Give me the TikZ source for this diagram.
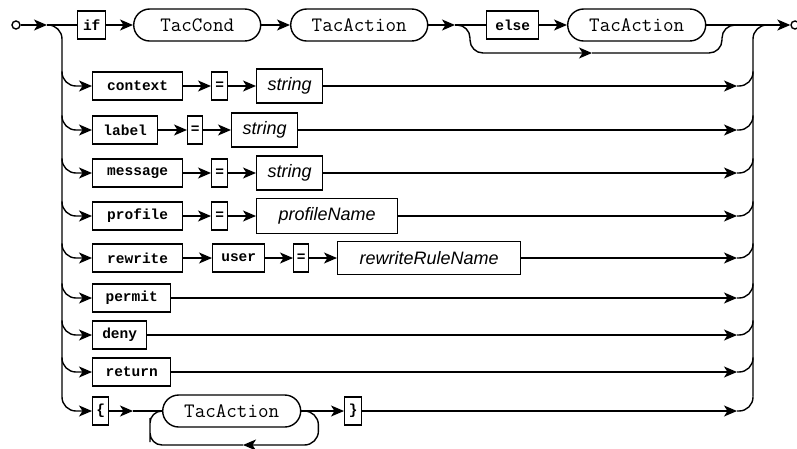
\documentclass[tikz,border=0pt]{standalone}
\usepackage{fontspec}
\usetikzlibrary{arrows.meta}
\newfontfamily\rrmono{Liberation Mono}
\newfontfamily\rrsans{Liberation Sans}

\tikzset{
  rail/.style={line width=1.4pt},
  arr/.style={-{Stealth[length=13pt,width=11pt,inset=3.5pt]}},
  kw/.style={draw, line width=1.4pt, inner sep=0pt, minimum height=28pt, anchor=west,
    font=\rrmono\bfseries\fontsize{14.5}{16}\selectfont},
  nt/.style={draw, line width=1.4pt, rounded corners=16pt, inner sep=0pt, minimum height=32pt, anchor=west,
    font=\ttfamily\fontsize{20.5}{22}\selectfont},
  term/.style={draw, line width=1.4pt, inner sep=0pt, minimum height=34pt, anchor=west,
    font=\rrsans\itshape\fontsize{18}{20}\selectfont},
  endpt/.style={circle, draw, line width=1.4pt, inner sep=0pt, minimum size=8pt}
}

\begin{document}
\begin{tikzpicture}[x=1pt,y=-1pt,rail]
\useasboundingbox (0,0) rectangle (797,448);

% first line: if ... else
\node[endpt] (start) at (16,25) {};
\node[endpt] (endc) at (795,25) {};
\coordinate (s1) at (47,25);
\coordinate (s2) at (455,25);
\coordinate (m2) at (740,25);
\coordinate (m3) at (770,25);
\coordinate (bpA) at (592,53);
\node[kw, minimum width=28pt] (if) at (77,25) {if};
\node[nt, minimum width=127pt] (cond) at (133,25) {TacCond};
\node[nt, minimum width=137pt] (act1) at (290,25) {TacAction};
\node[kw, minimum width=52pt] (else) at (486,25) {else};
\node[nt, minimum width=138pt] (act2) at (567,25) {TacAction};

\draw[arr] (start) -- (s1);
\draw (s1) -- (if);
\draw[arr] (if) -- (cond);
\draw[arr] (cond) -- (act1);
\draw[arr] (act1) -- (s2);
\draw (s2) -- (else);
\draw[arr] (else) -- (act2);
\draw[arr] (act2) -- (endc);
% skip the else part
\draw[arr, rounded corners=13pt] (s2) -- ++(15,0) |- (bpA);
\draw[rounded corners=13pt] (bpA) -- ++(130,0) |- (m2);

% settings
\node[kw, minimum width=90pt] (ctx) at (92,86) {context};
\node[kw, minimum width=16pt] (eq1) at (211,86) {=};
\node[term, minimum width=66pt] (str1) at (256,86) {string};
\node[kw, minimum width=65pt] (lbl) at (92,130) {label};
\node[kw, minimum width=15pt] (eq2) at (187,130) {=};
\node[term, minimum width=66pt] (str2) at (231,130) {string};
\node[kw, minimum width=90pt] (msg) at (92,173) {message};
\node[kw, minimum width=16pt] (eq3) at (211,173) {=};
\node[term, minimum width=66pt] (str3) at (256,173) {string};
\node[kw, minimum width=90pt] (prof) at (92,216) {profile};
\node[kw, minimum width=16pt] (eq4) at (211,216) {=};
\node[term, minimum width=141pt, minimum height=35pt] (pname) at (256,216) {profileName};
\node[kw, minimum width=90pt] (rew) at (92,258) {rewrite};
\node[kw, minimum width=52pt] (user) at (212,258) {user};
\node[kw, minimum width=15pt] (eq5) at (293,258) {=};
\node[term, minimum width=183pt, minimum height=33pt] (rrn) at (337,258) {rewriteRuleName};

\draw[arr] (ctx) -- (eq1);
\draw[arr] (eq1) -- (str1);
\draw[arr] (lbl) -- (eq2);
\draw[arr] (eq2) -- (str2);
\draw[arr] (msg) -- (eq3);
\draw[arr] (eq3) -- (str3);
\draw[arr] (prof) -- (eq4);
\draw[arr] (eq4) -- (pname);
\draw[arr] (rew) -- (user);
\draw[arr] (user) -- (eq5);
\draw[arr] (eq5) -- (rrn);

% single words
\node[kw, minimum width=78pt] (perm) at (92,298) {permit};
\node[kw, minimum width=54pt] (deny) at (92,335) {deny};
\node[kw, minimum width=78pt] (ret) at (92,372) {return};

% block
\coordinate (l1) at (133,411);
\coordinate (lpA) at (243,445);
\coordinate (lpB) at (150,430);
\node[kw, minimum width=16pt] (lbr) at (92,411) {\{};
\node[nt, minimum width=138pt] (act3) at (162,411) {TacAction};
\node[kw, minimum width=17pt] (rbr) at (344,411) {\}};
\draw[arr] (lbr) -- (l1);
\draw (l1) -- (act3);
\draw[arr] (act3) -- (rbr);
\draw[arr, rounded corners=14pt] (act3.east) -- ++(17,0) |- (lpA);
\draw[rounded corners=12pt] (lpA) -| (lpB) |- (act3.west);

% left bus
\coordinate (lbus) at (62,200);
\draw[arr, rounded corners=14pt] (s1) -| (lbus) |- (lbr);
\foreach \n in {ctx,lbl,msg,prof,rew,perm,deny,ret}
  \draw[arr, rounded corners=14pt] (lbus |- \n.north) |- (\n);

% right bus
\coordinate (rbus) at (753,200);
\coordinate (rj) at (737,200);
\draw[rounded corners=14pt] (rbus |- rbr.north) -- (rbus) |- (m3);
\foreach \n/\r in {str1/ctx,str2/lbl,str3/msg,pname/prof,rrn/rew,perm/perm,deny/deny,ret/ret,rbr/rbr} {
  \draw[arr] (\n) -- (\n -| rj);
  \draw[rounded corners=14pt] (\n -| rj) -| (rbus |- \r.north);
}
\end{tikzpicture}
\end{document}
